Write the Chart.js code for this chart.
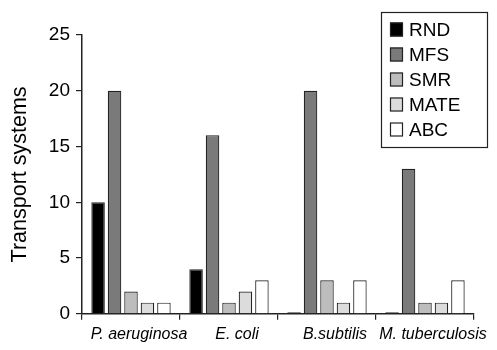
<!DOCTYPE html>
<html>
<head>
<meta charset="utf-8">
<script src="https://cdn.jsdelivr.net/npm/chart.js@4"></script>
<style>
  html, body { margin: 0; padding: 0; background: #fff; }
  #wrap { width: 497px; height: 350px; position: relative; }
</style>
</head>
<body>
<div id="wrap"><canvas id="chart"></canvas></div>
<script>
// organisms on the x axis
const organisms = ['P. aeruginosa', 'E. coli', 'B.subtilis', 'M. tuberculosis'];

// transporter families
const families = ['RND', 'MFS', 'SMR', 'MATE', 'ABC'];
const rnd  = [10, 4, 0.15, 0.15];
const mfs  = [20, 16, 20, 13];
const smr  = [2, 1, 3, 1];
const mate = [1, 2, 1, 1];
const abc  = [1, 3, 3, 3];

const yTicks = [0, 5, 10, 15, 20, 25];

const fills = ['#000000', '#7a7a7a', '#bdbdbd', '#dcdcdc', '#ffffff'];
const FONT = '"Liberation Sans", Arial, Helvetica, sans-serif';

// legend box in the upper right corner
const boxLegend = {
  id: 'boxLegend',
  afterDraw(chart) {
    const ctx = chart.ctx;
    ctx.save();
    ctx.strokeStyle = '#222';
    ctx.lineWidth = 1.2;
    ctx.strokeRect(381.5, 12.5, 106, 135);
    chart.data.datasets.forEach((ds, i) => {
      const cy = 29.5 + i * 25;
      ctx.fillStyle = ds.backgroundColor;
      ctx.fillRect(390, cy - 7, 13, 14);
      ctx.strokeRect(390.5, cy - 6.5, 12, 13);
      ctx.fillStyle = '#000';
      ctx.font = '19px ' + FONT;
      ctx.textBaseline = 'middle';
      ctx.fillText(ds.label, 409, cy + 1);
    });
    ctx.restore();
  }
};

const seriesValues = [rnd, mfs, smr, mate, abc];

new Chart(document.getElementById('chart'), {
  type: 'bar',
  data: {
    labels: organisms,
    datasets: families.map((name, i) => ({
      label: name,
      data: seriesValues[i],
      backgroundColor: fills[i],
      borderColor: '#222',
      borderWidth: 1.2,
      categoryPercentage: 0.84,
      barPercentage: 0.82
    }))
  },
  options: {
    responsive: true,
    maintainAspectRatio: false,
    animation: false,
    layout: { padding: { top: 35, right: 23, bottom: 1, left: 0 } },
    plugins: {
      legend: { display: false },
      tooltip: { enabled: false }
    },
    scales: {
      x: {
        offset: true,
        grid: {
          offset: true,
          drawOnChartArea: false,
          drawTicks: true,
          tickLength: 6,
          color: '#222',
          lineWidth: 1.2
        },
        border: { color: '#222', width: 1.5 },
        ticks: {
          color: '#000',
          padding: 5,
          labelOffset: 8,
          maxRotation: 0,
          autoSkip: false,
          font: { family: FONT, size: 16, style: 'italic' }
        }
      },
      y: {
        min: 0,
        max: 25,
        afterBuildTicks(scale) {
          scale.ticks = yTicks.map(v => ({ value: v }));
        },
        afterFit(scale) { scale.width = 82; },
        grid: {
          drawOnChartArea: false,
          tickLength: 6,
          color: '#222',
          lineWidth: 1.2
        },
        border: { color: '#222', width: 1.5 },
        ticks: {
          color: '#000',
          padding: 6,
          font: { family: FONT, size: 19 }
        },
        title: {
          display: true,
          text: 'Transport systems',
          color: '#000',
          padding: { top: 7, bottom: 0 },
          font: { family: FONT, size: 21.5 }
        }
      }
    }
  },
  plugins: [boxLegend]
});
</script>
</body>
</html>
